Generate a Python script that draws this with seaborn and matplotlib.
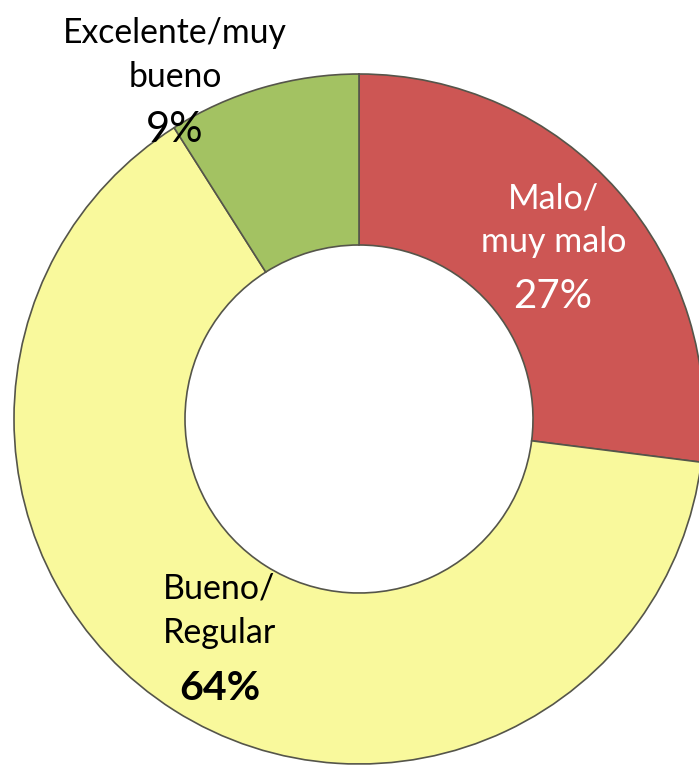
import matplotlib
matplotlib.use("Agg")
import matplotlib.pyplot as plt
import seaborn as sns

# survey answers, clockwise from 12 o'clock
categories = ["Malo/\nmuy malo", "Bueno/\nRegular", "Excelente/muy\nbueno"]
shares = [27, 64, 9]
pct_labels = ["27%", "64%", "9%"]
colors = ["#CD5654", "#F9F99C", "#A3C262"]

sns.set_theme(style="white")
plt.rcParams["font.family"] = ["Lato", "DejaVu Sans"]

W, H = 699, 768
fig = plt.figure(figsize=(W / 100, H / 100), dpi=100)
ax = fig.add_axes([0, 0, 1, 1])

cx, cy = 359, H - 419
ax.pie(shares, colors=colors, startangle=90, counterclock=False,
       center=(cx, cy), radius=345,
       wedgeprops=dict(width=171, edgecolor="#55554a", linewidth=1.2))
ax.set_xlim(0, W)
ax.set_ylim(0, H)
ax.set_aspect("equal")
ax.axis("off")

def put(x, y, s, size, color="black", weight="normal"):
    ax.text(x, H - y, s, ha="center", va="baseline", fontsize=size,
            color=color, fontweight=weight)

# Excelente/muy bueno
put(175, 43, "Excelente/muy", 24.3)
put(175, 87, "bueno", 24.3)
put(175, 142, pct_labels[2], 30)
# Malo/muy malo
put(553, 208, "Malo/", 24.5, "white")
put(554, 252, "muy malo", 24.5, "white")
put(553, 308, pct_labels[0], 29, "white")
# Bueno/Regular
put(219, 598, "Bueno/", 24.5)
put(220, 643, "Regular", 24.5)
put(220, 700, pct_labels[1], 29.5, weight="bold")

fig.savefig("out.png", dpi=100)
